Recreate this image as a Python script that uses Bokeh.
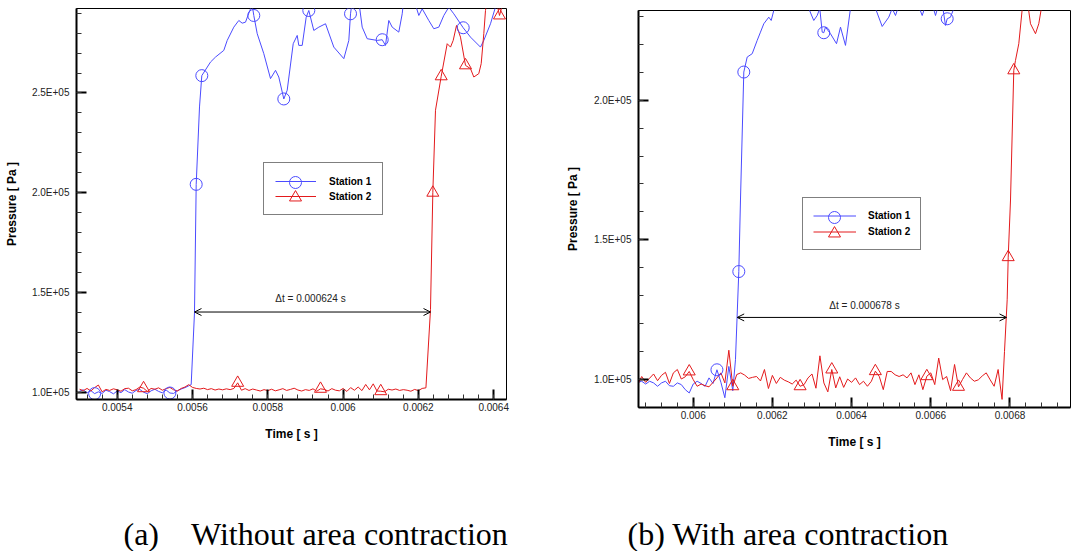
import numpy as np
from bokeh.plotting import figure
from bokeh.models import (Range1d, FixedTicker, CustomJSTickFormatter, Legend, LegendItem,
                          Arrow, OpenHead, Label, Title)
from bokeh.layouts import row, column
from bokeh.embed import file_html
from bokeh.resources import INLINE

BLUE = "#4b4bff"
RED = "#e31a1c"

# ------------------------------------------------------------------ (a) data
a_base_t0 = 0.00530
a_base_dt = 0.00001
# Station 1 baseline pressure [kPa], samples from 0.00530 s
a_s1_base_kpa = [100.5, 101.2, 99.6, 100.8, 99.3, 100.2, 99.4, 101.0, 100.3, 99.2,
                 100.6, 99.8, 101.3, 100.1, 99.5, 100.9, 101.4, 100.0, 99.3, 100.7,
                 101.5, 100.4, 99.7, 101.1, 99.6, 99.4, 100.8, 101.6, 102.3, 103.2]
# Station 1 after shock arrival
a_s1_t = [0.0055965, 0.0056053, 0.0056098, 0.0056186, 0.0056247, 0.0056478, 0.0056611, 0.0056831,
          0.0056922, 0.0057097, 0.0057230, 0.0057320, 0.0057408, 0.0057522, 0.0057586, 0.0057628,
          0.0057719, 0.0057894, 0.0058072, 0.0058205, 0.0058292, 0.0058425, 0.0058515, 0.0058675,
          0.0058781, 0.0058823, 0.0058914, 0.0059020, 0.0059089, 0.0059222, 0.0059355, 0.0059533,
          0.0059753, 0.0060019, 0.0060152, 0.0060197, 0.0060242, 0.0060417, 0.0060507, 0.0060640,
          0.0060906, 0.0061039, 0.0061126, 0.0061214, 0.0061304, 0.0061479, 0.0061570, 0.0061612,
          0.0061878, 0.0062011, 0.0062101, 0.0062276, 0.0062409, 0.0062542, 0.0062675, 0.0062807,
          0.0062940, 0.0063190, 0.0063384, 0.0063649, 0.0063737, 0.0063915, 0.0064093, 0.0064300]
a_s1_p = [103800, 139850, 204200, 243000, 258700, 265500, 268000, 271350,
          276350, 283000, 286350, 285000, 285500, 291350, 294000, 288850,
          279700, 269700, 257200, 261350, 258000, 247000, 251350, 274700,
          278850, 273850, 273850, 288000, 291350, 281350, 283000, 284700,
          273000, 267200, 276350, 289700, 296000, 296000, 283000, 277200,
          276350, 276700, 273850, 286350, 283000, 280500, 289700, 297000,
          297000, 288850, 292200, 286350, 282200, 283000, 288850, 293000,
          289700, 282700, 278000, 273000, 276350, 284700, 296000, 300000]
# Station 2 baseline pressure [kPa], samples from 0.00530 s
a_s2_base_kpa = [101.5, 100.8, 101.9, 100.6, 102.3, 103.6, 100.2, 101.4, 100.9, 101.7,
                 101.2, 100.5, 101.8, 102.0, 100.7, 101.3, 102.6, 102.0, 100.4, 101.9,
                 101.5, 102.2, 101.0, 101.8, 102.4, 101.2, 100.6, 101.9, 102.6, 103.8,
                 102.4, 101.9, 101.6, 102.0, 101.3, 101.8, 101.1, 101.6, 101.2, 101.7,
                 101.3, 101.9, 104.7, 101.0, 101.8, 100.9, 101.6, 101.1, 100.6, 101.3,
                 100.8, 101.5, 100.7, 101.2, 101.8, 100.9, 101.4, 102.0, 101.1, 100.6,
                 101.3, 100.9, 101.7, 100.5, 101.7, 101.4, 100.6, 101.8, 101.0, 100.7,
                 101.9, 100.4, 102.3, 101.0, 102.6, 100.8, 103.9, 101.2, 104.2, 100.6,
                 100.5, 100.2, 101.5, 101.1, 101.6, 100.9, 101.3, 101.0, 100.5, 101.4,
                 100.8, 101.9, 102.2]
a_s2_t = [0.0062321, 0.0062383, 0.0062454, 0.0062606, 0.0062765, 0.0062853, 0.0062924, 0.0063012,
          0.0063118, 0.0063251, 0.0063384, 0.0063472, 0.0063604, 0.0063668, 0.0063737, 0.0063782,
          0.0063835, 0.0064048, 0.0064154, 0.0064260, 0.0064366]
a_s2_p = [141350, 200000, 241350, 258350, 274700, 273000, 276350, 283850,
          278000, 263850, 262200, 258000, 259700, 264700, 279700, 291350,
          298000, 298000, 288850, 296000, 300000]
a_s1_sym_t = [0.00534, 0.00554, 0.0056098, 0.0056247, 0.0057628, 0.0058425, 0.0059089, 0.0060197, 0.0061039, 0.0063190]
a_s1_sym_p = [99300, 99600, 204200, 258700, 288850, 247000, 291350, 289700, 276700, 282700]
a_s2_sym_t = [0.00547, 0.00572, 0.00594, 0.00610, 0.0062383, 0.0062606, 0.0063251, 0.0064154]
a_s2_sym_p = [102000, 104700, 101700, 100500, 200000, 258350, 263850, 288850]
a_dt_text = "\u0394t = 0.000624 s"
a_arrow_t = (0.0056053, 0.0062322)
a_arrow_p = 140200
a_text_pos = (0.0059134, 147200)

# ------------------------------------------------------------------ (b) data
b_base_t0 = 0.00586
b_base_dt = 0.00001
b_s1_base_kpa = [99.0, 99.4, 98.4, 99.4, 98.8, 97.6, 98.8, 99.4, 97.8, 97.6,
                 98.8, 98.2, 96.4, 95.2, 98.4, 99.4, 98.6, 97.6, 100.6, 98.6,
                 103.5, 99.0, 93.5, 104.7, 96.0]
b_s1_t = [0.0061068, 0.0061152, 0.0061194, 0.0061278, 0.0061364, 0.0061490, 0.0061616, 0.0061699,
          0.0061783, 0.0061909, 0.0061970, 0.0062035, 0.0062205, 0.0062710, 0.0062912, 0.0063045,
          0.0063131, 0.0063197, 0.0063258, 0.0063298, 0.0063341, 0.0063467, 0.0063619, 0.0063720,
          0.0063846, 0.0063972, 0.0064100, 0.0064400, 0.0064604, 0.0064773, 0.0064939, 0.0065025,
          0.0065109, 0.0065167, 0.0065487, 0.0065715, 0.0065783, 0.0065841, 0.0065993, 0.0066068,
          0.0066119, 0.0066169, 0.0066295, 0.0066371, 0.0066414, 0.0066497, 0.0066581, 0.0066750,
          0.0067129, 0.0069600]
b_s1_p = [107100, 138660, 164260, 210060, 215420, 216630, 221380, 224340,
          227340, 229700, 228520, 232090, 238000, 240000, 233000, 228520,
          230300, 232800, 224340, 224130, 226130, 223780, 220210, 226130,
          219600, 232800, 238000, 236000, 232800, 226380, 229700, 232800,
          230300, 232800, 236000, 232800, 230300, 232800, 235000, 232800,
          230300, 232800, 234000, 226740, 229130, 229700, 232800, 240000,
          245000, 245000]
b_s2_base_kpa = [98.2, 101.1, 99.0, 100.5, 102.0, 99.6, 101.5, 102.6, 98.6, 102.4,
                 103.6, 100.2, 101.0, 102.9, 100.0, 97.6, 98.4, 97.8, 97.4, 99.0,
                 100.6, 102.4, 98.8, 110.5, 97.6, 101.8, 102.4, 101.6, 100.4, 100.8,
                 101.1, 99.5, 103.6, 96.8, 101.5, 98.6, 100.8, 99.8, 99.2, 98.4,
                 99.8, 97.6, 98.2, 100.6, 102.0, 96.9, 108.5, 98.8, 95.6, 103.6,
                 97.0, 101.0, 97.2, 100.2, 99.0, 100.6, 98.2, 99.4, 97.6, 99.4,
                 103.0, 101.1, 96.4, 102.9, 102.9, 101.7, 101.1, 101.7, 100.6, 102.4,
                 98.2, 101.7, 96.4, 101.2, 102.4, 98.2, 107.7, 100.0, 101.1, 96.0,
                 105.4, 97.4, 100.0, 102.4, 100.6, 99.4, 99.9, 101.3, 102.4, 99.9,
                 97.6, 103.6, 92.9]
b_s2_t = [0.0067861, 0.0067929, 0.0067955, 0.0068013, 0.0068096, 0.0068139, 0.0068222, 0.0068308,
          0.0068434, 0.0068518, 0.0068644, 0.0068727, 0.0068788, 0.0069023, 0.0069600]
b_s2_p = [110000, 128560, 143800, 164260, 210670, 214240, 220200, 232500,
          236000, 227340, 223780, 227340, 232500, 240000, 245000]
b_s1_sym_t = [0.00606, 0.0061152, 0.0061278, 0.0063298, 0.0066414]
b_s1_sym_p = [103500, 138660, 210060, 224130, 229130]
b_s2_sym_t = [0.00599, 0.00610, 0.00627, 0.00635, 0.00646, 0.00659, 0.00667, 0.0067955, 0.0068096]
b_s2_sym_p = [102900, 97600, 97600, 103600, 103000, 101200, 97400, 143800, 210670]
b_dt_text = "\u0394t = 0.000678 s"
b_arrow_t = (0.0061111, 0.0067912)
b_arrow_p = 122240
b_text_pos = (0.0064326, 126420)

x_label = "Time [ s ]"
y_label = "Pressure [ Pa ]"
series_names = ["Station 1", "Station 2"]
cap_a = "(a)\u00a0\u00a0\u00a0\u00a0Without area contraction"
cap_b = "(b) With area contraction"


def series(t0, dt, base_kpa, t_up, p_up):
    t = [t0 + dt * i for i in range(len(base_kpa))] + list(t_up)
    p = [v * 1000.0 for v in base_kpa] + list(p_up)
    return t, p


X_FMT = CustomJSTickFormatter(code="return parseFloat(tick.toPrecision(6)).toString();")
Y_FMT = CustomJSTickFormatter(code="""
const s = tick.toExponential(1).toUpperCase();
return s.replace(/E([+-])(\\d)$/, (m, a, b) => 'E' + a + '0' + b);
""")


def marker_legend(renderer, loc):
    # borderless, transparent legend used only to draw a full-size symbol
    return Legend(items=[LegendItem(label=" ", renderers=[renderer])], location=loc,
                  margin=0, padding=0, spacing=0, glyph_width=30, glyph_height=30,
                  label_height=30, label_standoff=0, label_text_font_size="1px",
                  border_line_color=None, background_fill_alpha=0)


def make_panel(width, height, xr, yr, bl, br, bt, bb, xmaj, ymaj,
               s1, s2, s1sym, s2sym, arrow_t, arrow_p, dt_text, text_pos,
               leg_loc, leg_pad, glyph_w, row_h, standoff, mk_locs,
               caption, cap_offset, spacer, ylab_standoff):
    p = figure(width=width, height=height, x_range=Range1d(*xr), y_range=Range1d(*yr),
               output_backend="svg", toolbar_location=None,
               min_border_left=bl, min_border_right=br, min_border_top=bt, min_border_bottom=bb)
    p.xgrid.visible = False
    p.ygrid.visible = False
    p.outline_line_color = "black"
    p.outline_line_width = 1
    p.background_fill_color = "white"

    xminor = list(np.arange(xr[0] - xr[0] % 0.00004, xr[1], 0.00004))
    yminor = list(np.arange(80000, 320000, 10000))
    p.xaxis.ticker = FixedTicker(ticks=xmaj, minor_ticks=xminor)
    p.yaxis.ticker = FixedTicker(ticks=ymaj, minor_ticks=yminor)
    p.xaxis.formatter = X_FMT
    p.yaxis.formatter = Y_FMT
    for ax in (p.xaxis[0], p.yaxis[0]):
        ax.axis_line_width = 2
        ax.axis_line_color = "black"
        ax.major_tick_in = 10
        ax.major_tick_out = 0
        ax.minor_tick_in = 5
        ax.minor_tick_out = 0
        ax.major_tick_line_width = 2
        ax.major_tick_line_color = "black"
        ax.minor_tick_line_color = "#333333"
        ax.major_label_text_font = "Liberation Sans"
        ax.major_label_text_font_size = "10px"
        ax.major_label_text_color = "#222222"
        ax.axis_label_text_font = "Liberation Sans"
        ax.axis_label_text_font_style = "bold"
        ax.axis_label_text_font_size = "12px"
        ax.axis_label_text_color = "black"
    p.xaxis.axis_label = x_label
    p.yaxis.axis_label = y_label
    p.xaxis.major_label_standoff = 3
    p.xaxis.axis_label_standoff = 13
    p.yaxis.major_label_standoff = 7
    p.yaxis.axis_label_standoff = ylab_standoff

    l1 = p.line(s1[0], s1[1], line_color=BLUE, line_width=1)
    l2 = p.line(s2[0], s2[1], line_color=RED, line_width=1)
    m1 = p.scatter(s1sym[0], s1sym[1], marker="circle", size=12, fill_color=None,
                   line_color=BLUE, line_width=1)
    m2 = p.scatter(s2sym[0], s2sym[1], marker="triangle", size=12, fill_color=None,
                   line_color=RED, line_width=1)

    p.add_layout(Arrow(start=OpenHead(size=7, line_width=1, line_color="black"),
                       end=OpenHead(size=7, line_width=1, line_color="black"),
                       x_start=arrow_t[0], y_start=arrow_p, x_end=arrow_t[1], y_end=arrow_p,
                       line_width=1, line_color="black"))
    p.add_layout(Label(x=text_pos[0], y=text_pos[1], text=dt_text, text_align="center",
                       text_baseline="middle", text_font="Liberation Sans",
                       text_font_size="10px", text_color="#222222"))

    leg = Legend(items=[LegendItem(label=series_names[0], renderers=[l1]),
                        LegendItem(label=series_names[1], renderers=[l2])],
                 location=leg_loc, margin=0, padding=leg_pad, spacing=1,
                 glyph_width=glyph_w, glyph_height=row_h, label_height=row_h,
                 label_standoff=standoff,
                 label_text_font="Liberation Sans", label_text_font_style="bold",
                 label_text_font_size="10px", label_text_color="black",
                 border_line_color="black", border_line_width=1,
                 background_fill_color="white", background_fill_alpha=1)
    p.add_layout(leg)
    p.add_layout(marker_legend(m1, mk_locs[0]))
    p.add_layout(marker_legend(m2, mk_locs[1]))

    # spacer then caption below the x axis
    p.add_layout(Title(text=" ", text_font_size="10px", standoff=spacer), "below")
    p.add_layout(Title(text=caption, align="left", offset=cap_offset, standoff=0,
                       vertical_align="bottom",
                       text_font="Liberation Serif", text_font_size="32px",
                       text_font_style="normal", text_color="black"), "below")
    return p


a_s1 = series(a_base_t0, a_base_dt, a_s1_base_kpa, a_s1_t, a_s1_p)
a_s2 = series(a_base_t0, a_base_dt, a_s2_base_kpa, a_s2_t, a_s2_p)
b_s1 = series(b_base_t0, b_base_dt, b_s1_base_kpa, b_s1_t, b_s1_p)
b_s2 = series(b_base_t0, b_base_dt, b_s2_base_kpa, b_s2_t, b_s2_p)

p1 = make_panel(560, 551, (0.0052919, 0.0064340), (96350, 292350), 76, 54, 8, 151,
                [0.0054, 0.0056, 0.0058, 0.0060, 0.0062, 0.0064],
                [100000, 150000, 200000, 250000],
                a_s1, a_s2, (a_s1_sym_t, a_s1_sym_p), (a_s2_sym_t, a_s2_sym_p),
                a_arrow_t, a_arrow_p, a_dt_text, a_text_pos,
                (187, 184), 11, 41, 14, 13, [(203.5, 202), (203.5, 187)],
                cap_a, 47, 57, 10)
p2 = make_panel(511, 551, (0.0058619, 0.0069528), (90004, 232090), 78, 1, 10, 143,
                [0.0060, 0.0062, 0.0064, 0.0066, 0.0068],
                [100000, 150000, 200000],
                b_s1, b_s2, (b_s1_sym_t, b_s1_sym_p), (b_s2_sym_t, b_s2_sym_p),
                b_arrow_t, b_arrow_p, b_dt_text, b_text_pos,
                (164, 157), 10, 43, 15, 12, [(180.5, 175), (180.5, 159)],
                cap_b, -11, 49, 11)

layout = row(column(p1), column(p2))
open("out.html", "w").write(file_html(layout, INLINE))
